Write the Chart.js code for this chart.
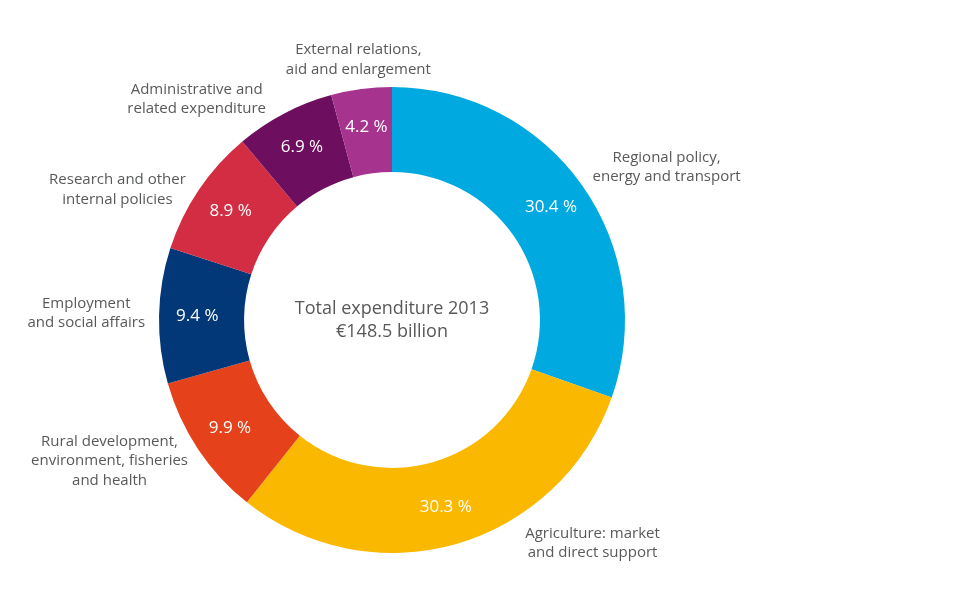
<!DOCTYPE html>
<html>
<head>
<meta charset="utf-8">
<script src="https://cdn.jsdelivr.net/npm/chart.js@4/dist/chart.umd.min.js"></script>
<style>
html,body{margin:0;padding:0;background:#fff;}
#wrap{width:978px;height:591px;}
</style>
</head>
<body>
<div id="wrap"><canvas id="c" width="978" height="591"></canvas></div>
<script>
const categories = [
  ["Regional policy,", "energy and transport"],
  ["Agriculture: market", "and direct support"],
  ["Rural development,", "environment, fisheries", "and health"],
  ["Employment", "and social affairs"],
  ["Research and other", "internal policies"],
  ["Administrative and", "related expenditure"],
  ["External relations,", "aid and enlargement"]
];
const shares = [30.4, 30.3, 9.9, 9.4, 8.9, 6.9, 4.2];
const centerText = ["Total expenditure 2013", "€148.5 billion"];

const colors = ["#00a9e0", "#fab800", "#e5411b", "#023877", "#d32d43", "#6d0f5e", "#a6338e"];
const FONT = "'Open Sans', sans-serif";
const GREY = "#58595b";

// label layout relative to each slice: angle shift (deg), gap beyond outer edge (px), side
const labelLayout = [
  {da: -2.0, gap: 19, side: "left"},
  {da: -14.8, gap: 27, side: "left"},
  {da: -1.0, gap: 15, side: "right"},
  {da: 0.5, gap: 14, side: "right"},
  {da: -1.7, gap: 11, side: "right"},
  {da: -2.2, gap: 21, side: "right"},
  {da: -0.4, gap: 10, side: "top"}
];

const labelPlugin = {
  id: 'labels',
  afterDatasetsDraw(chart) {
    const ctx = chart.ctx;
    const meta = chart.getDatasetMeta(0);
    ctx.save();
    meta.data.forEach((arc, i) => {
      const cx = arc.x, cy = arc.y;
      const outer = arc.outerRadius, inner = arc.innerRadius;
      const mid = (arc.startAngle + arc.endAngle) / 2;
      // percentage inside
      const rm = inner + (outer - inner) * 0.55;
      ctx.fillStyle = "#ffffff";
      ctx.font = "17px " + FONT;
      ctx.textAlign = "center";
      ctx.textBaseline = "middle";
      ctx.fillText(shares[i].toFixed(1) + " %", cx + rm * Math.cos(mid), cy + rm * Math.sin(mid));
      // outside label
      const L = labelLayout[i];
      const a = mid + L.da * Math.PI / 180;
      const r = outer + L.gap;
      const x = cx + r * Math.cos(a), y = cy + r * Math.sin(a);
      const lines = categories[i];
      const lh = 19.5;
      ctx.fillStyle = GREY;
      ctx.font = "15px " + FONT;
      ctx.textAlign = "center";
      const maxW = Math.max(...lines.map(t => ctx.measureText(t).width));
      const n = lines.length;
      let xc = x, y0;
      if (L.side === "left") { xc = x + maxW / 2; y0 = y - (n - 1) * lh / 2; }
      else if (L.side === "right") { xc = x - maxW / 2; y0 = y - (n - 1) * lh / 2; }
      else { y0 = y - lh / 2 - (n - 1) * lh; }
      lines.forEach((t, k) => ctx.fillText(t, xc, y0 + k * lh));
    });
    // center text
    const a0 = meta.data[0];
    ctx.fillStyle = GREY;
    ctx.font = "18px " + FONT;
    ctx.textAlign = "center";
    ctx.textBaseline = "middle";
    ctx.fillText(centerText[0], a0.x, a0.y - 11);
    ctx.fillText(centerText[1], a0.x, a0.y + 12);
    ctx.restore();
  }
};

new Chart(document.getElementById('c'), {
  type: 'doughnut',
  data: {
    labels: categories.map(l => l.join(' ')),
    datasets: [{
      data: shares,
      backgroundColor: colors,
      borderWidth: 0,
      hoverOffset: 0
    }]
  },
  options: {
    responsive: false,
    animation: false,
    cutout: '63.5%',
    rotation: 0,
    layout: { padding: { left: 0, right: 194, top: 87, bottom: 38 } },
    plugins: { legend: { display: false }, tooltip: { enabled: false } }
  },
  plugins: [labelPlugin]
});
</script>
</body>
</html>
